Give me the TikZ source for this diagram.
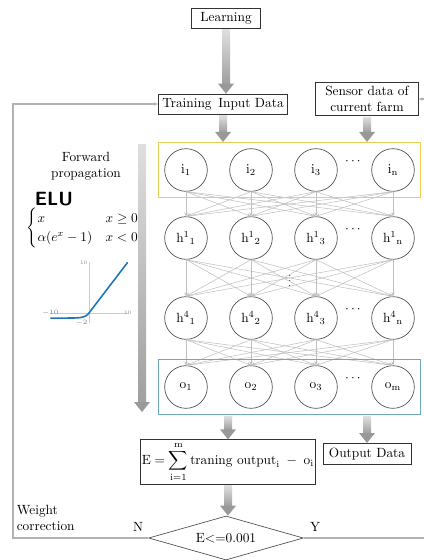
\documentclass[tikz,border=0pt]{standalone}
\usepackage{amsmath}
\usepackage{amssymb}
\usepackage{tikz}
\usepackage{xcolor}
\usetikzlibrary{arrows.meta, calc, fit, shapes.geometric}

\definecolor{elublue}{RGB}{31,119,180}
\definecolor{inyellow}{RGB}{236,206,80}
\definecolor{outblue}{RGB}{110,168,190}

% thick shaded arrow from #1 down to #2
\newcommand{\bigarrow}[2]{%
    \path (#1) coordinate (ba-s) (#2) coordinate (ba-e);
    \shade[top color=gray!25, bottom color=gray!75] ($(ba-s)+(-4,1)$) rectangle ($(ba-e)+(4,-10)$);
    \fill[gray!80] ($(ba-e)+(-8,-10)$) -- ($(ba-e)+(8,-10)$) -- (ba-e) -- cycle;
}

\begin{document}
\begin{tikzpicture}[x=0.75pt, y=-0.75pt, line width=0.5pt,
    box/.style={draw=black!80, inner sep=3pt},
    neuron/.style={circle, draw=black!70, minimum size=32pt, inner sep=0pt},
    link/.style={gray!50, line width=0.4pt, -{Stealth[length=3pt,width=2.5pt]}},
    back/.style={gray!60, line width=0.8pt, -{Stealth[length=3pt,width=2.5pt]}}]

    \useasboundingbox (0,0) rectangle (424,560);

    % input boxes
    \node[box, minimum width=52pt, minimum height=15pt] (learn) at (226,18) {Learning};
    \node[box, minimum width=96pt, minimum height=15pt] (train) at (223,104) {Training\, Input Data};
    \node[box, align=center, inner sep=2pt, minimum width=77pt, minimum height=25pt] (sensor) at (367,99) {Sensor data of\\current farm};

    % network
    \foreach \x/\j in {186/1, 251/2, 316/3, 393/n} {
        \node[neuron] (i\j) at (\x,170) {$\mathrm{i}_{\mathrm{\j}}$};
        \node[neuron] (ha\j) at (\x,238) {$\mathrm{h}^{1}{}_{\mathrm{\j}}$};
        \node[neuron] (hd\j) at (\x,318) {$\mathrm{h}^{4}{}_{\mathrm{\j}}$};
    }
    \foreach \x/\j in {186/1, 251/2, 316/3, 393/m} {
        \node[neuron] (o\j) at (\x,387) {$\mathrm{o}_{\mathrm{\j}}$};
    }
    \foreach \y/\r in {162/idots, 230/hadots, 310/hddots, 379/odots} {
        \node (\r) at (354,\y) {$\cdots$};
    }
    \node[font=\scriptsize, inner sep=0pt] (vdots) at (290,277) {$\vdots$};

    \foreach \a in {1,2,3,n} {
        \foreach \b in {1,2,3,n} {
            \draw[link] (i\a.south) -- (ha\b.north);
            \draw[link] (ha\a.south) -- (hd\b.north);
        }
        \foreach \b in {1,2,3,m} {
            \draw[link] (hd\a.south) -- (o\b.north);
        }
    }

    \node[draw=inyellow, line width=0.8pt, fit=(i1)(in), inner sep=4.4pt] (inbox) {};
    \node[draw=outblue, line width=0.8pt, fit=(o1)(om), inner sep=4.4pt] (outbox) {};

    % forward propagation and ELU
    \coordinate (fp1) at (142,143);
    \coordinate (fp2) at (142,412);
    \bigarrow{fp1}{fp2}
    \node[align=center] (fwd) at (86,166) {Forward\\propagation};
    \node[anchor=west, font=\sffamily\bfseries\Large] (elu) at (30,199) {ELU};
    \node[anchor=west] (elueq) at (22,228) {$\begin{cases} x & x \geq 0\\ \alpha(e^{x}-1) & x<0 \end{cases}$};

    \begin{scope}[shift={(89,313)}, x=2.9pt, y=3.8pt]
        \draw[gray!40, line width=0.4pt] (-10,0) -- (10,0);
        \draw[gray!40, line width=0.4pt] (0,-2) -- (0,10);
        \node[font=\fontsize{4}{4}\selectfont, gray, left, inner sep=1pt] (ytop) at (0,10) {10};
        \node[font=\fontsize{4}{4}\selectfont, gray, inner sep=1pt] (xleft) at (-10,0) {$-10$};
        \node[font=\fontsize{4}{4}\selectfont, gray, inner sep=1pt] (xright) at (10,0) {10};
        \node[font=\fontsize{4}{4}\selectfont, gray, left, inner sep=1pt] (ybot) at (0,-2) {$-2$};
        \draw[elublue, line width=1.2pt] plot[domain=-10:10, samples=81, smooth] (\x, {exp(min(\x,0))-1 + max(\x,0)});
    \end{scope}

    % output part
    \node[box, inner xsep=1pt, inner ysep=2pt] (ebox) at (228,462) {$\displaystyle \mathrm{E} = \sum_{\mathrm{i}=1}^{\mathrm{m}} \text{traning output}_{\mathrm{i}}\; - \;\mathrm{o}_{\mathrm{i}}$};
    \node[box, minimum width=66pt, minimum height=16pt] (outdata) at (367,454) {Output Data};
    \node[diamond, draw=black!70, minimum width=116pt, minimum height=33pt, inner sep=0pt, aspect=3.5] (check) at (226,538) {E<=0.001};

    \node[anchor=west, align=left] (wc) at (12,518) {Weight\\correction};
    \node (nlab) at (138,527) {N};
    \node (ylab) at (315,527) {Y};

    % shaded arrows
    \bigarrow{learn.south}{train.north -| learn.south}
    \bigarrow{train.south}{train.south |- inbox.north}
    \bigarrow{sensor.south}{sensor.south |- inbox.north}
    \bigarrow{ebox.north |- outbox.south}{ebox.north}
    \bigarrow{outdata.north |- outbox.south}{outdata.north}
    \bigarrow{ebox.south}{check.north -| ebox.south}

    % feedback lines
    \draw[back] (check.west) -- (13,538) |- (train.west);
    \draw[back] (check.east) -- (430,538) |- (sensor.east);
\end{tikzpicture}
\end{document}
